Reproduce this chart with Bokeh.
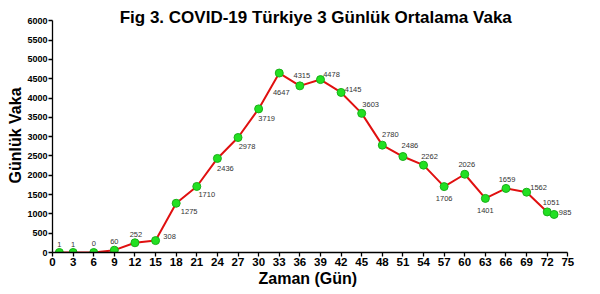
from bokeh.plotting import figure
from bokeh.models import ColumnDataSource, Range1d, FixedTicker, Label, Title
from bokeh.core.properties import value
from bokeh.embed import file_html
from bokeh.resources import INLINE

# ---- data ----
days = [1, 3, 6, 9, 12, 15, 18, 21, 24, 27, 30, 33, 36, 39, 42, 45, 48, 51, 54, 57, 60, 63, 66, 69, 72, 73]
cases = [1, 1, 0, 60, 252, 308, 1275, 1710, 2436, 2978, 3719, 4647, 4315, 4478, 4145, 3603,
         2780, 2486, 2262, 1706, 2026, 1401, 1659, 1562, 1051, 985]
x_ticks = list(range(0, 76, 3))
y_ticks = list(range(0, 6001, 500))

# label pixel offsets (style)
lab_dx = [0, 0, 0, 0, 1, 14, 13, 10, 8, 9, 8, 2, 2, 11, 12, 9, 8, 7, 6, 0, 2, 0, 1, 12, 4, 11]
lab_dy = [-8, -8, -9, -9, -8, -4, 8, 8, 10, 9, 10, 19, -10, -5, -3, -9, -11, -11, -9, 12, -10, 12, -9, -5, -9, -2]

FONT = "Liberation Sans"

src = ColumnDataSource(dict(x=days, y=cases, t=[str(c) for c in cases], dx=lab_dx, dy=lab_dy))

p = figure(width=600, height=294, output_backend="svg", toolbar_location=None,
           x_range=Range1d(0, 78.3), y_range=Range1d(0, 6500),
           min_border_left=52, min_border_right=10, min_border_top=1, min_border_bottom=42)
p.outline_line_color = None
p.xgrid.visible = False
p.ygrid.visible = False
p.background_fill_color = "white"
p.border_fill_color = "white"

p.line("x", "y", source=src, line_color="#e01010", line_width=2)
p.scatter("x", "y", source=src, size=8, fill_color="#22e022", line_color="#19b019", line_width=1)
p.text("x", "y", text="t", source=src, x_offset="dx", y_offset="dy",
       text_font_size="7.5px", text_color="#333333", text_align="center",
       text_baseline="middle", text_font=value(FONT))

for ax in (p.xaxis[0], p.yaxis[0]):
    ax.axis_line_color = "black"
    ax.axis_line_width = 1.3
    ax.major_tick_line_color = "black"
    ax.major_tick_line_width = 1.3
    ax.major_tick_in = 0
    ax.major_tick_out = 4
    ax.minor_tick_line_color = None
    ax.major_label_text_font = FONT
    ax.major_label_text_font_style = "bold"
    ax.major_label_text_color = "black"

p.xaxis.ticker = FixedTicker(ticks=x_ticks)
p.yaxis.ticker = FixedTicker(ticks=y_ticks)
p.xaxis.bounds = (0, 75)
p.yaxis.bounds = (0, 6000)
p.xaxis.major_label_text_font_size = "11.5px"
p.yaxis.major_label_text_font_size = "9px"
p.xaxis.major_label_standoff = 1
p.yaxis.major_label_standoff = 1

xtitle = Title(text="Zaman  (Gün)", align="left", offset=206, vertical_align="middle",
               text_font=FONT, text_font_style="bold", text_font_size="16px",
               text_color="black", standoff=0)
p.add_layout(xtitle, "below")

ytitle = Title(text="Günlük Vaka", align="left", offset=69, vertical_align="middle",
               text_font=FONT, text_font_style="bold", text_font_size="16px",
               text_color="black", standoff=0)
p.add_layout(ytitle, "left")

p.add_layout(Label(x=39.0, y=6078, text="Fig 3. COVID-19 Türkiye  3 Günlük  Ortalama Vaka",
                   text_align="center", text_baseline="middle", text_font=FONT,
                   text_font_style="bold", text_font_size="17px", text_color="black"))

open("out.html", "w").write(file_html(p, INLINE))
